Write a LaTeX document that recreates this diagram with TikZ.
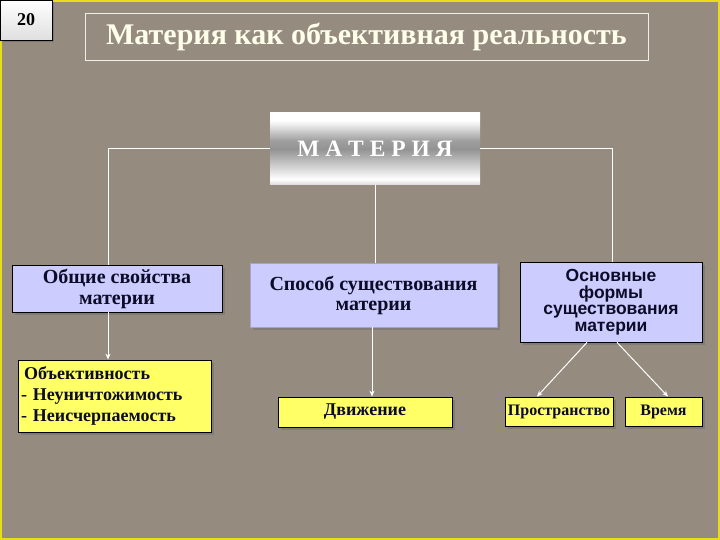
\documentclass[tikz,border=0pt]{standalone}
\usepackage{fontspec}
\setmainfont{Liberation Serif}
\newfontfamily\arialbold{Liberation Sans}[BoldFont=* Bold]
\usetikzlibrary{arrows.meta,shadows}
\definecolor{granite}{RGB}{150,139,127}
\definecolor{lavender}{RGB}{204,204,255}
\definecolor{lemon}{RGB}{255,255,102}
\definecolor{inkblue}{RGB}{12,12,40}
\pgfdeclareverticalshading{metal}{100bp}{color(0bp)=(gray!30); color(25bp)=(gray!30);
  color(29bp)=(white); color(40bp)=(gray!45); color(50bp)=(gray!85); color(56bp)=(gray!75);
  color(66bp)=(gray!20); color(70bp)=(white); color(75bp)=(white); color(100bp)=(white)}

\begin{document}
\begin{tikzpicture}[x=1pt, y=-1pt, >={Stealth[length=6pt,width=5pt]},
  box/.style={draw=black, line width=.8pt, align=center, inner sep=2pt,
    text=inkblue, font=\fontsize{20}{21}\selectfont\bfseries,
    drop shadow={shadow xshift=3pt, shadow yshift=-3pt, fill=black!55, opacity=.6}},
  lavbox/.style={box, fill=lavender},
  yelbox/.style={box, fill=lemon, font=\fontsize{18}{21}\selectfont\bfseries},
  link/.style={draw=white, line width=1pt}]
  \useasboundingbox (0,0) rectangle (720,540);
  \fill[granite] (0,0) rectangle (720,540);
  \draw[yellow!90!black, line width=2pt] (1,1) rectangle (719,539);

  % header
  \node[draw=black, line width=.8pt, top color=white, bottom color=gray!25,
    minimum width=52pt, minimum height=40pt, font=\fontsize{18}{19}\selectfont\bfseries,
    drop shadow={shadow xshift=2pt, shadow yshift=-2pt, fill=black!60}] (num) at (26,20) {20};
  \node[draw=white!85!granite, line width=.6pt, minimum width=563pt, minimum height=47pt,
    text=white!92!yellow, font=\fontsize{30}{31}\selectfont\bfseries] (title) at (366.5,36.5)
    {Материя как объективная реальность};

  % root
  \node[shading=metal, minimum width=210pt, minimum height=72pt, text=white,
    font=\fontsize{23.5}{25}\selectfont\bfseries] (matter) at (375,149) {М А Т Е Р И Я};

  % second level
  \node[lavbox, minimum width=210pt, minimum height=47pt] (props) at (117,288.5)
    {Общие свойства\\материи};
  \node[lavbox, draw=lavender!80!black, minimum width=247pt, minimum height=64pt,
    font=\fontsize{20}{20}\selectfont\bfseries] (mode) at (373.5,295)
    {Способ существования\\материи};
  \node[lavbox, minimum width=182pt, minimum height=80pt, font=\arialbold\fontsize{17.5}{16.5}\selectfont\bfseries]
    (forms) at (611,302) {Основные\\формы\\существования\\материи};

  % third level
  \node[yelbox, align=left, minimum width=193pt, minimum height=72pt, text width=187pt] (objective) at (114.5,396)
    {\hspace*{3pt}Объективность\\- Неуничтожимость\\- Неисчерпаемость};
  \node[yelbox, minimum width=174pt, minimum height=30pt] (motion) at (365,412) {Движение};
  \node[yelbox, minimum width=108pt, minimum height=29pt, inner sep=1pt,
    font=\fontsize{16}{17}\selectfont\bfseries] (space) at (559,411.5) {Пространство};
  \node[yelbox, minimum width=77pt, minimum height=29pt,
    font=\fontsize{16}{17}\selectfont\bfseries] (time) at (663.5,411.5) {Время};

  \coordinate (propsin) at ([xshift=-9pt]props.north);
  \coordinate (propsout) at ([xshift=-9pt]props.south);
  \draw[link] (matter.west) -| (propsin);
  \draw[link] (matter.east) -| ([xshift=1pt]forms.north);
  \draw[link] (matter.south) -- (mode.north -| matter.south);
  \draw[link, ->] (propsout) -- (propsout |- objective.north);
  \draw[link, ->] ([xshift=-1.5pt]mode.south) -- ([xshift=-1.5pt]mode.south |- motion.north);
  \draw[link, ->] ([xshift=-24pt]forms.south) -- ([xshift=-22pt]space.north);
  \draw[link, ->] ([xshift=6pt]forms.south) -- ([xshift=4.5pt]time.north);
\end{tikzpicture}
\end{document}
